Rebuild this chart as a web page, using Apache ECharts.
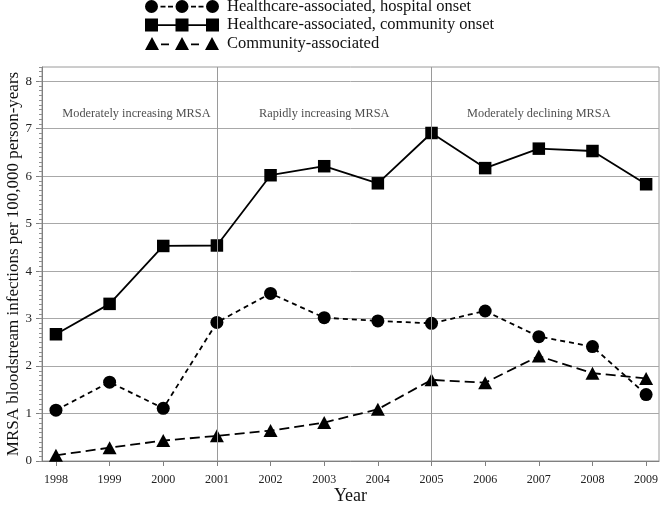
<!DOCTYPE html>
<html>
<head>
<meta charset="utf-8">
<script src="https://cdn.jsdelivr.net/npm/echarts@6/dist/echarts.min.js"></script>
<style>html,body{margin:0;padding:0;background:#fff}#c{width:660px;height:508px}</style>
</head>
<body>
<div id="c"></div>
<script>
// ---- data ----
var years = [1998, 1999, 2000, 2001, 2002, 2003, 2004, 2005, 2006, 2007, 2008, 2009];
var hospitalOnset = [1.07, 1.66, 1.11, 2.92, 3.53, 3.02, 2.95, 2.90, 3.16, 2.62, 2.41, 1.40];
var communityOnset = [2.67, 3.31, 4.53, 4.54, 6.02, 6.21, 5.85, 6.91, 6.17, 6.58, 6.53, 5.83];
var communityAssoc = [0.12, 0.28, 0.43, 0.53, 0.64, 0.81, 1.09, 1.71, 1.65, 2.21, 1.85, 1.74];
var seriesNames = ['Healthcare-associated, hospital onset', 'Healthcare-associated, community onset', 'Community-associated'];
var periodBounds = [1998, 2001, 2005, 2009];
var periodNames = ['Moderately increasing MRSA', 'Rapidly increasing MRSA', 'Moderately declining MRSA'];
var yTicks = [0, 1, 2, 3, 4, 5, 6, 7, 8];

function pairs(vals) { return years.map(function (y, i) { return [y, vals[i]]; }); }
function rect(x1, y1, x2, y2) { return 'M' + x1 + ',' + y1 + ' H' + x2 + ' V' + y2 + ' H' + x1 + ' Z '; }
function circ(cx, cy, r) { return 'M' + (cx - r) + ',' + cy + ' A' + r + ',' + r + ' 0 1,1 ' + (cx + r) + ',' + cy + ' A' + r + ',' + r + ' 0 1,1 ' + (cx - r) + ',' + cy + ' Z '; }
function tri(cx) { return 'M' + cx + ',0 L' + (cx + 7) + ',13 L' + (cx - 7) + ',13 Z '; }

var iconCircle = 'path://' + circ(6.5, 6.5, 6.5) + circ(37, 6.5, 6.5) + circ(67.5, 6.5, 6.5)
  + rect(15.5, 5.7, 20.5, 7.4) + rect(23, 5.7, 28, 7.4) + rect(46, 5.7, 51, 7.4) + rect(53.5, 5.7, 58.5, 7.4);
var iconSquare = 'path://' + rect(0, 0, 13, 13) + rect(30.5, 0, 43.5, 13) + rect(61, 0, 74, 13)
  + rect(13, 5.7, 30.5, 7.4) + rect(43.5, 5.7, 61, 7.4);
var iconTri = 'path://' + tri(7) + tri(37) + tri(67)
  + rect(16, 6.5, 24, 8.2) + rect(46, 6.5, 54, 8.2);

var periodLabels = periodNames.map(function (n, i) {
  return { value: [(periodBounds[i] + periodBounds[i + 1]) / 2, 7.31], name: n };
});

var FONT = 'Liberation Serif';
var chart = echarts.init(document.getElementById('c'), null, { renderer: 'canvas' });
chart.setOption({
  animation: false,
  backgroundColor: '#fff',
  textStyle: { fontFamily: FONT, color: '#111' },
  grid: { left: 42, right: 1, top: 67, bottom: 47, show: true, borderColor: '#9a9a9a', borderWidth: 1,
    containLabel: false, outerBoundsMode: 'none' },
  legend: {
    orient: 'vertical', left: 140, top: -7, itemGap: 1.5, itemWidth: 74, itemHeight: 13,
    textStyle: { fontFamily: FONT, fontSize: 16.5, color: '#111', padding: [0, 0, 0, 3] },
    data: [
      { name: seriesNames[0], icon: iconCircle },
      { name: seriesNames[1], icon: iconSquare },
      { name: seriesNames[2], icon: iconTri }
    ]
  },
  xAxis: {
    type: 'value', min: 1997.74, max: 2009.24, interval: 1,
    name: 'Year', nameLocation: 'middle', nameGap: 26, nameMoveOverlap: false,
    nameTextStyle: { fontFamily: FONT, fontSize: 18, color: '#111' },
    axisLine: { lineStyle: { color: '#808080', width: 1 } },
    axisTick: { show: true, length: 5, customValues: years, lineStyle: { color: '#808080' } },
    axisLabel: { customValues: years, margin: 13, fontFamily: FONT, fontSize: 12, color: '#222',
      formatter: function (v) { return String(v); } },
    splitLine: { show: false }
  },
  yAxis: [{
    type: 'value', min: 0, max: 8.3, interval: 1, position: 'left',
    name: 'MRSA bloodstream infections per 100,000 person-years', nameLocation: 'middle', nameGap: 20,
    nameMoveOverlap: false,
    nameTextStyle: { fontFamily: FONT, fontSize: 17, color: '#111' },
    axisLine: { show: true, lineStyle: { color: '#808080', width: 1 } },
    axisTick: { show: true, length: 6, customValues: yTicks, lineStyle: { color: '#808080' } },
    axisLabel: { customValues: yTicks, margin: 10, fontFamily: FONT, fontSize: 13, color: '#222' },
    splitLine: { show: true, lineStyle: { color: '#a8a8a8', width: 1 } }
  }, {
    type: 'value', min: 0, max: 8.3, interval: 0.1, position: 'left', offset: 0,
    axisLine: { show: false },
    axisTick: { show: true, length: 3, lineStyle: { color: '#909090' } },
    axisLabel: { show: false },
    splitLine: { show: false }
  }],
  series: [{
    name: seriesNames[0], type: 'line', data: pairs(hospitalOnset),
    symbol: 'circle', symbolSize: 13, showAllSymbol: true,
    itemStyle: { color: '#000' }, lineStyle: { color: '#000', width: 1.8, type: [5, 4] },
    markLine: {
      silent: true, symbol: 'none', label: { show: false },
      lineStyle: { color: '#9a9a9a', width: 1, type: 'solid' },
      data: [{ xAxis: periodBounds[1] }, { xAxis: periodBounds[2] }]
    },
    z: 3
  }, {
    name: seriesNames[1], type: 'line', data: pairs(communityOnset),
    symbol: 'rect', symbolSize: 12.5,
    itemStyle: { color: '#000' }, lineStyle: { color: '#000', width: 1.8, type: 'solid' },
    z: 3
  }, {
    name: seriesNames[2], type: 'line', data: pairs(communityAssoc),
    symbol: 'triangle', symbolSize: [14, 13],
    itemStyle: { color: '#000' }, lineStyle: { color: '#000', width: 1.8, type: [10, 5] },
    z: 3
  }, {
    name: 'periods', type: 'scatter', data: periodLabels, symbolSize: 0, silent: true,
    label: { show: true, position: 'inside', formatter: '{b}', fontFamily: FONT, fontSize: 12.3, color: '#222' },
    z: 2
  }]
});
</script>
</body>
</html>
